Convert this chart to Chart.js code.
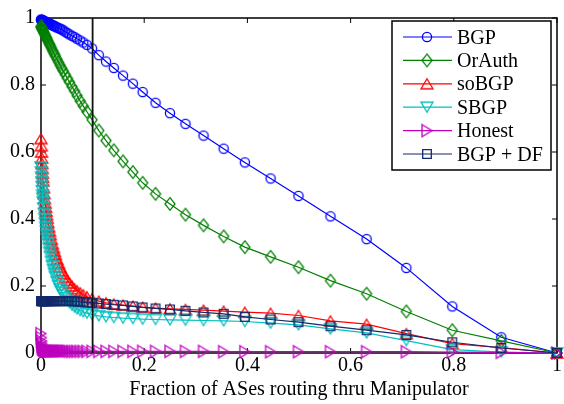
<!DOCTYPE html>
<html>
<head>
<meta charset="utf-8">
<script src="https://cdn.jsdelivr.net/npm/chart.js@4.4.1/dist/chart.umd.min.js"></script>
<style>
  html, body { margin: 0; padding: 0; background: #fff; }
</style>
</head>
<body>
<canvas id="manipuladorChart" width="564" height="404"></canvas>
<script>
// Fração de ASes (eixo x) - bem densa perto de zero
const fracoes = [
  0, 0.0005, 0.001, 0.0015, 0.002, 0.0025, 0.003, 0.0035, 0.004, 0.005,
  0.006, 0.007, 0.008, 0.009, 0.010, 0.011, 0.012, 0.0135, 0.015, 0.0165,
  0.018, 0.020, 0.022, 0.024, 0.026, 0.028, 0.031, 0.034, 0.037, 0.040,
  0.043, 0.047, 0.051, 0.055, 0.060, 0.065, 0.070, 0.076, 0.082, 0.089, 0.099,
  0.112, 0.126, 0.141, 0.159, 0.178, 0.197, 0.222, 0.250, 0.280, 0.315,
  0.354, 0.395, 0.445, 0.499, 0.561, 0.631, 0.708, 0.797, 0.892, 1.0
];

const bgp = [
  0.995, 0.995, 0.994, 0.994, 0.993, 0.993, 0.992, 0.992, 0.992, 0.991,
  0.990, 0.989, 0.989, 0.988, 0.987, 0.986, 0.986, 0.985, 0.984, 0.983,
  0.982, 0.980, 0.979, 0.977, 0.976, 0.974, 0.972, 0.970, 0.968, 0.966,
  0.963, 0.959, 0.955, 0.951, 0.947, 0.943, 0.938, 0.933, 0.927, 0.920, 0.909,
  0.889, 0.870, 0.851, 0.828, 0.804, 0.779, 0.747, 0.716, 0.684, 0.649,
  0.610, 0.569, 0.521, 0.469, 0.408, 0.340, 0.254, 0.139, 0.047, 0
];
const orAuth = [
  0.975, 0.973, 0.972, 0.970, 0.968, 0.967, 0.965, 0.963, 0.962, 0.958,
  0.955, 0.952, 0.949, 0.945, 0.942, 0.939, 0.936, 0.931, 0.926, 0.922,
  0.917, 0.911, 0.904, 0.898, 0.892, 0.886, 0.877, 0.868, 0.859, 0.850,
  0.842, 0.831, 0.820, 0.809, 0.795, 0.782, 0.768, 0.752, 0.737, 0.720, 0.696,
  0.664, 0.634, 0.605, 0.572, 0.540, 0.508, 0.475, 0.445, 0.413, 0.381,
  0.348, 0.316, 0.287, 0.256, 0.216, 0.177, 0.124, 0.068, 0.036, 0
];
const soBgp = [
  0.640, 0.619, 0.600, 0.582, 0.566, 0.551, 0.537, 0.525, 0.514, 0.494,
  0.476, 0.461, 0.448, 0.436, 0.424, 0.413, 0.403, 0.390, 0.377, 0.365,
  0.354, 0.340, 0.327, 0.315, 0.304, 0.294, 0.280, 0.268, 0.257, 0.246,
  0.237, 0.226, 0.217, 0.209, 0.200, 0.192, 0.186, 0.180, 0.174, 0.168, 0.162,
  0.155, 0.150, 0.146, 0.143, 0.140, 0.137, 0.134, 0.132, 0.130, 0.128,
  0.125, 0.122, 0.119, 0.112, 0.096, 0.086, 0.058, 0.028, 0.016, 0
];
const sBgp = [
  0.555, 0.540, 0.525, 0.511, 0.497, 0.484, 0.472, 0.461, 0.451, 0.433,
  0.416, 0.401, 0.388, 0.375, 0.363, 0.352, 0.341, 0.327, 0.313, 0.300,
  0.288, 0.273, 0.260, 0.248, 0.237, 0.227, 0.213, 0.201, 0.191, 0.182,
  0.174, 0.165, 0.157, 0.150, 0.143, 0.137, 0.132, 0.127, 0.123, 0.119, 0.115,
  0.111, 0.108, 0.106, 0.104, 0.103, 0.101, 0.100, 0.099, 0.098, 0.097,
  0.096, 0.094, 0.089, 0.084, 0.072, 0.060, 0.037, 0.010, 0.003, 0
];
const honesto = [
  0.058, 0.046, 0.036, 0.029, 0.023, 0.019, 0.016, 0.013, 0.012, 0.010,
  0.009, 0.008, 0.008, 0.007, 0.007, 0.006, 0.006, 0.006, 0.006, 0.006,
  0.006, 0.006, 0.006, 0.006, 0.006, 0.006, 0.006, 0.006, 0.006, 0.006,
  0.006, 0.006, 0.006, 0.005, 0.005, 0.005, 0.005, 0.005, 0.005, 0.005, 0.005,
  0.005, 0.005, 0.005, 0.005, 0.005, 0.005, 0.005, 0.005, 0.005, 0.005,
  0.004, 0.004, 0.004, 0.004, 0.004, 0.004, 0.004, 0.003, 0.002, 0
];
const bgpDf = [
  0.155, 0.155, 0.155, 0.155, 0.155, 0.155, 0.155, 0.155, 0.155, 0.155,
  0.155, 0.155, 0.155, 0.155, 0.155, 0.155, 0.155, 0.155, 0.155, 0.155,
  0.155, 0.155, 0.155, 0.155, 0.155, 0.155, 0.155, 0.155, 0.155, 0.155,
  0.155, 0.155, 0.155, 0.155, 0.155, 0.154, 0.154, 0.153, 0.152, 0.151, 0.150,
  0.148, 0.146, 0.144, 0.142, 0.139, 0.136, 0.133, 0.130, 0.126, 0.121,
  0.117, 0.108, 0.100, 0.092, 0.080, 0.068, 0.054, 0.032, 0.015, 0
];

const nomes = ['BGP', 'OrAuth', 'soBGP', 'SBGP', 'Honest', 'BGP + DF'];
const ticksEixo = [0, 0.2, 0.4, 0.6, 0.8, 1];
const linhaVertical = 0.1;   // marca em x = 0.1

const fonte = { family: "'Liberation Serif', 'Times New Roman', serif", size: 20 };

// Desenha cada marcador (estilo MATLAB) num canvas pequeno
function criaMarcador(forma, cor) {
  const c = document.createElement('canvas');
  c.width = 16; c.height = 16;
  const g = c.getContext('2d');
  const m = 8;
  g.strokeStyle = cor;
  g.lineWidth = 1.3;
  g.beginPath();
  if (forma === 'circulo') {
    g.arc(m, m, 4.6, 0, Math.PI * 2);
  } else if (forma === 'losango') {
    g.moveTo(m, m - 6.3); g.lineTo(m + 5, m); g.lineTo(m, m + 6.3); g.lineTo(m - 5, m);
  } else if (forma === 'cima') {
    g.moveTo(m, m - 5); g.lineTo(m + 6, m + 5); g.lineTo(m - 6, m + 5);
  } else if (forma === 'baixo') {
    g.moveTo(m - 6, m - 5); g.lineTo(m + 6, m - 5); g.lineTo(m, m + 5);
  } else if (forma === 'direita') {
    g.moveTo(m - 5, m - 6); g.lineTo(m + 5, m); g.lineTo(m - 5, m + 6);
  } else {
    g.rect(m - 4.3, m - 4.3, 8.6, 8.6);
  }
  g.closePath();
  g.stroke();
  return c;
}

const series = [bgp, orAuth, soBgp, sBgp, honesto, bgpDf];
const cores = ['#0000ff', '#008000', '#ff0000', '#00bfbf', '#bf00bf', '#13296b'];
const formas = ['circulo', 'losango', 'cima', 'baixo', 'direita', 'quadrado'];

const datasets = series.map((valores, i) => {
  const marcador = criaMarcador(formas[i], cores[i]);
  return {
    label: nomes[i],
    data: fracoes.map((x, k) => ({ x: x, y: valores[k] })),
    borderColor: cores[i],
    backgroundColor: cores[i],
    borderWidth: 1.2,
    pointStyle: marcador,
    pointRadius: 5,
    tension: 0,
    clip: false,
    order: series.length - i   // a última série fica por cima
  };
});

// Caixa, ticks para dentro, linha em x = 0.1 e legenda
const molduraPlugin = {
  id: 'moldura',
  beforeDatasetsDraw(chart) {
    const { ctx, chartArea: a, scales: { x, y } } = chart;
    ctx.save();
    ctx.strokeStyle = '#000';
    ctx.lineWidth = 1.5;
    ctx.strokeRect(a.left, a.top, a.right - a.left, a.bottom - a.top);
    ctx.lineWidth = 1;
    ctx.beginPath();
    ticksEixo.forEach(v => {
      const px = x.getPixelForValue(v);
      ctx.moveTo(px, a.bottom); ctx.lineTo(px, a.bottom - 5);
      ctx.moveTo(px, a.top); ctx.lineTo(px, a.top + 5);
      const py = y.getPixelForValue(v);
      ctx.moveTo(a.left, py); ctx.lineTo(a.left + 5, py);
      ctx.moveTo(a.right, py); ctx.lineTo(a.right - 5, py);
    });
    ctx.stroke();
    ctx.restore();
  },
  afterDatasetsDraw(chart) {
    const { ctx, chartArea: a, scales: { x } } = chart;
    ctx.save();
    // linha vertical preta
    const lx = x.getPixelForValue(linhaVertical);
    ctx.strokeStyle = '#111';
    ctx.lineWidth = 1.8;
    ctx.beginPath();
    ctx.moveTo(lx, a.top);
    ctx.lineTo(lx, a.bottom);
    ctx.stroke();

    // legenda
    const bx = 392, by = 21, bw = 159, bh = 149;
    ctx.fillStyle = '#fff';
    ctx.fillRect(bx, by, bw, bh);
    ctx.strokeStyle = '#000';
    ctx.lineWidth = 1.5;
    ctx.strokeRect(bx, by, bw, bh);
    ctx.font = fonte.size + 'px ' + fonte.family;
    ctx.textBaseline = 'alphabetic';
    chart.data.datasets.forEach((ds, i) => {
      const ry = 37 + i * 23.4;
      ctx.strokeStyle = ds.borderColor;
      ctx.lineWidth = 1.2;
      ctx.beginPath();
      ctx.moveTo(403, ry);
      ctx.lineTo(452, ry);
      ctx.stroke();
      ctx.drawImage(ds.pointStyle, 427 - 8, ry - 8);
      ctx.fillStyle = '#000';
      ctx.fillText(ds.label, 457, ry + 6.5);
    });
    ctx.restore();
  }
};

const rotulo = v => String(Math.round(v * 10) / 10);

const ctx = document.getElementById('manipuladorChart').getContext('2d');
new Chart(ctx, {
  type: 'line',
  data: { datasets: datasets },
  options: {
    responsive: false,
    animation: false,
    layout: { padding: { top: 14, right: 7, left: 0, bottom: 0 } },
    plugins: {
      legend: { display: false },
      tooltip: { enabled: false }
    },
    scales: {
      x: {
        type: 'linear',
        min: 0,
        max: 1,
        afterBuildTicks: s => { s.ticks = ticksEixo.map(v => ({ value: v })); },
        afterFit: s => { s.height = 51; },
        grid: { display: false, drawTicks: false },
        border: { display: false },
        ticks: { padding: 1, font: fonte, color: '#000', maxRotation: 0, autoSkip: false, callback: rotulo },
        title: {
          display: true,
          text: 'Fraction of ASes routing thru Manipulator',
          font: fonte,
          color: '#000',
          padding: { top: 0, bottom: 2 }
        }
      },
      y: {
        type: 'linear',
        min: 0,
        max: 1,
        afterBuildTicks: s => { s.ticks = ticksEixo.map(v => ({ value: v })); },
        afterFit: s => { s.width = 41; },
        grid: { display: false, drawTicks: false },
        border: { display: false },
        ticks: { padding: 6, font: fonte, color: '#000', autoSkip: false, callback: rotulo }
      }
    }
  },
  plugins: [molduraPlugin]
});
</script>
</body>
</html>
